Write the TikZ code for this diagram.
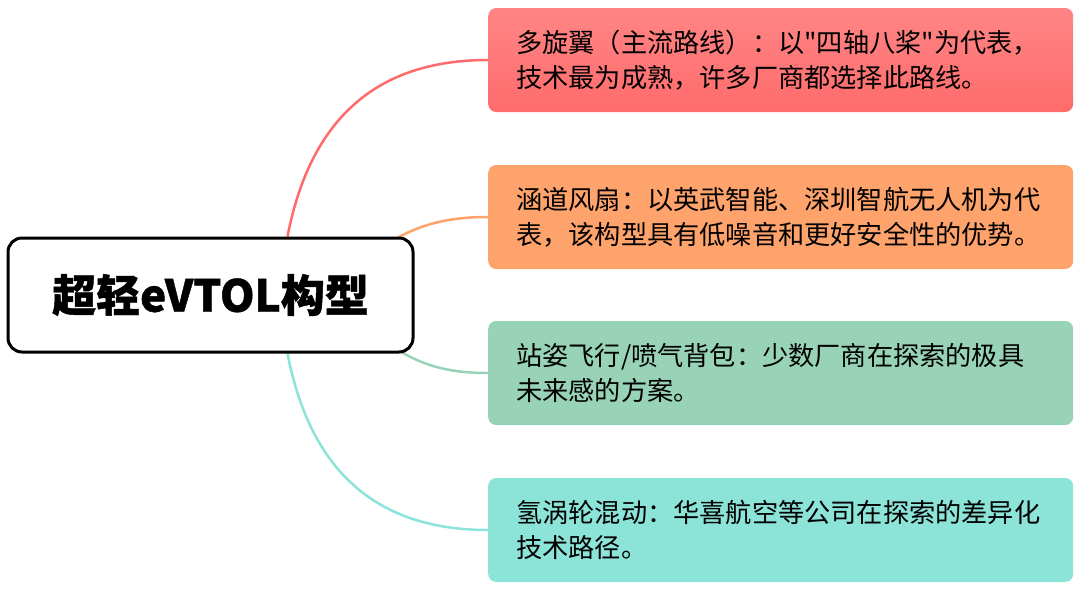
\documentclass[tikz,border=0pt]{standalone}
\usepackage{fontspec}
\newfontfamily\cjk{Noto Sans CJK SC}
\newfontfamily\cjkt{Noto Sans CJK SC}[BoldFeatures={FakeBold=1}]
\usetikzlibrary{calc}
\pgfdeclarelayer{bg}
\pgfsetlayers{bg,main}
\definecolor{cred}{HTML}{FF6B6B}
\definecolor{credtop}{HTML}{FF8585}
\definecolor{corange}{HTML}{FFA36C}
\definecolor{cgreen}{HTML}{98D3B7}
\definecolor{cteal}{HTML}{8CE3D8}
\tikzset{
  leaf/.style={rectangle, rounded corners=8pt, anchor=west, minimum height=104pt,
    text width=529pt, inner xsep=28pt, inner ysep=0pt, align=left,
    font=\cjk\fontsize{26.2}{35}\selectfont, text=black},
  root/.style={rectangle, rounded corners=14pt, draw=black, line width=3pt, fill=white,
    minimum width=405pt, minimum height=114pt, font=\cjkt\bfseries\fontsize{44}{50}\selectfont},
  link/.style={line width=2.5pt}
}
\begin{document}
\begin{tikzpicture}[x=1pt,y=-1pt]
\useasboundingbox (0,0) rectangle (1080,590);
\node[root] (c) at (210.5,295) {超轻eVTOL构型};
\node[leaf, top color=credtop, bottom color=cred] (b1) at (488,60)
  {多旋翼（主流路线）：以"四轴八桨"为代表，\\技术最为成熟，许多厂商都选择此路线。};
\node[leaf, fill=corange] (b2) at (488,217)
  {涵道风扇：以英武智能、深圳智航无人机为代\\表，该构型具有低噪音和更好安全性的优势。};
\node[leaf, fill=cgreen] (b3) at (488,373)
  {站姿飞行/喷气背包：少数厂商在探索的极具\\未来感的方案。};
\node[leaf, fill=cteal] (b4) at (488,530)
  {氢涡轮混动：华喜航空等公司在探索的差异化\\技术路径。};
\coordinate (s1) at ($(c.north west)+(281,0)$);
\coordinate (s2) at ($(c.north east)+(-18,2)$);
\coordinate (s3) at ($(c.south east)+(-14,-2)$);
\coordinate (s4) at ($(c.south west)+(281,0)$);
\begin{pgfonlayer}{bg}
\draw[link, cred] (s1) .. controls (312,110) and (385,60) .. (b1.west);
\draw[link, corange] (s2) .. controls (425,222) and (455,217) .. (b2.west);
\draw[link, cgreen] (s3) .. controls (428,368) and (455,373) .. (b3.west);
\draw[link, cteal] (s4) .. controls (312,480) and (385,530) .. (b4.west);
\end{pgfonlayer}
\end{tikzpicture}
\end{document}
